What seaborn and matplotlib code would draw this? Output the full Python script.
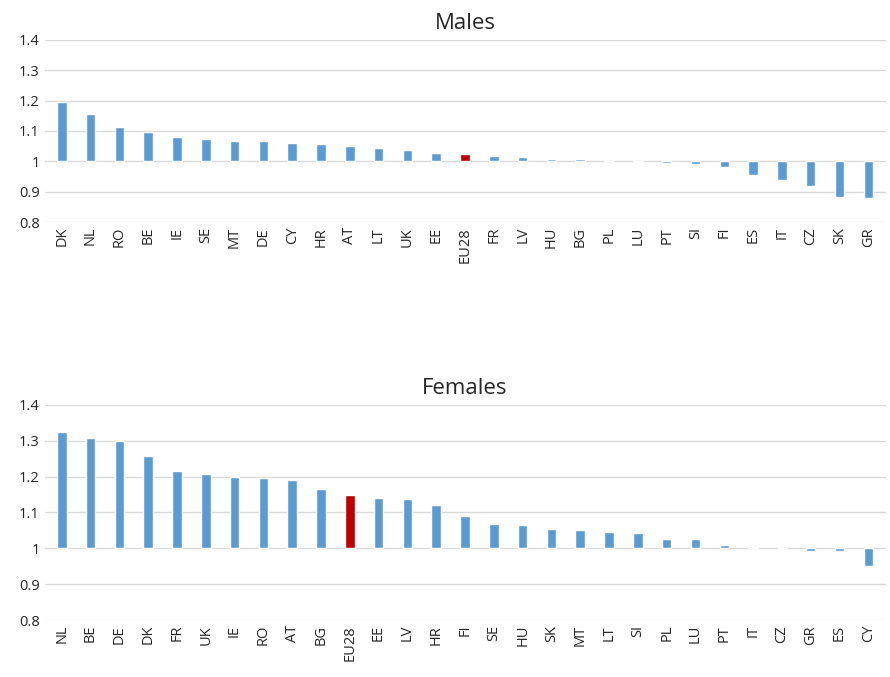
import numpy as np
import matplotlib.pyplot as plt
import seaborn as sns

males_c = ["DK","NL","RO","BE","IE","SE","MT","DE","CY","HR","AT","LT","UK","EE","EU28",
           "FR","LV","HU","BG","PL","LU","PT","SI","FI","ES","IT","CZ","SK","GR"]
males_v = [1.195,1.157,1.112,1.096,1.080,1.075,1.067,1.066,1.062,1.058,1.051,1.044,1.037,1.027,1.025,
           1.018,1.015,1.008,1.008,1.000,0.997,0.993,0.990,0.980,0.955,0.940,0.920,0.882,0.878]
fem_c = ["NL","BE","DE","DK","FR","UK","IE","RO","AT","BG","EU28","EE","LV","HR","FI",
         "SE","HU","SK","MT","LT","SI","PL","LU","PT","IT","CZ","GR","ES","CY"]
fem_v = [1.323,1.308,1.298,1.258,1.215,1.208,1.200,1.195,1.190,1.165,1.150,1.140,1.137,1.120,1.090,
         1.068,1.065,1.055,1.050,1.047,1.043,1.027,1.027,1.008,1.003,1.000,0.993,0.992,0.952]

sns.set_style("white")
plt.rcParams['font.family'] = ['Open Sans', 'DejaVu Sans']

fig = plt.figure(figsize=(8.9, 6.77), dpi=100)
ax1 = fig.add_axes([0.05, 0.672, 0.945, 0.269])
ax2 = fig.add_axes([0.05, 0.084, 0.945, 0.318])
for ax, cats, vals, title in [(ax1, males_c, males_v, "Males"), (ax2, fem_c, fem_v, "Females")]:
    pal = ["#C00000" if c == "EU28" else "#5B9BD5" for c in cats]
    sns.barplot(x=cats, y=np.array(vals) - 1, bottom=1, hue=cats, palette=pal, saturation=1,
                legend=False, width=0.33, ax=ax, zorder=3)
    ax.set_ylim(0.8, 1.4)
    ax.set_yticks([0.8, 0.9, 1.0, 1.1, 1.2, 1.3, 1.4])
    ax.set_yticklabels(["0.8", "0.9", "1", "1.1", "1.2", "1.3", "1.4"])
    ax.set_xlim(-0.6, len(cats) - 0.4)
    ax.grid(axis="y", color="#D9D9D9", linewidth=1, zorder=0)
    for s in ax.spines.values():
        s.set_visible(False)
    ax.tick_params(axis="x", rotation=90, labelsize=10.5, length=0)
    ax.tick_params(axis="y", labelsize=10.5, length=0)
    ax.set_title(title, fontsize=16, pad=8)

fig.savefig("out.png")
